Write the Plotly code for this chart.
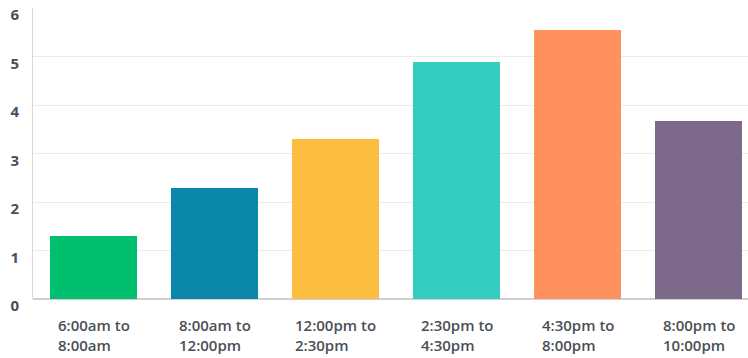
import plotly.graph_objects as go

categories = ["6:00am to<br>8:00am", "8:00am to<br>12:00pm", "12:00pm to<br>2:30pm",
              "2:30pm to<br>4:30pm", "4:30pm to<br>8:00pm", "8:00pm to<br>10:00pm"]
values = [1.3, 2.29, 3.3, 4.88, 5.55, 3.67]
colors = ["#00BF6F", "#0B88A9", "#FDBD41", "#35CDC0", "#FF915E", "#7D6A8B"]
y_ticks = [0, 1, 2, 3, 4, 5, 6]

x_idx = list(range(len(categories)))

fig = go.Figure()
fig.add_trace(go.Bar(x=x_idx, y=values, marker=dict(color=colors, line=dict(width=0)),
                     width=0.727, hoverinfo="skip"))

font_c = "#4B4F56"
for i, c in enumerate(categories):
    fig.add_annotation(x=i, y=0, xref="x", yref="y", text=c, showarrow=False,
                       align="left", xanchor="center", yanchor="top", yshift=-14,
                       font=dict(family="Open Sans", size=15, color=font_c, weight=600))

fig.update_layout(
    template="none",
    width=748, height=358,
    margin=dict(l=33, r=0, t=7.5, b=58.7, pad=0, autoexpand=False),
    paper_bgcolor="white", plot_bgcolor="white",
    showlegend=False,
    bargap=0,
    xaxis=dict(range=[-0.5, 5.409], showticklabels=False, showgrid=False,
               zeroline=False, showline=False, fixedrange=True, automargin=False),
    yaxis=dict(range=[0, 6], tickvals=y_ticks, ticktext=[str(t) for t in y_ticks],
               showgrid=True, gridcolor="#EBEBEB", gridwidth=1,
               zeroline=True, zerolinecolor="#D0D0D0", zerolinewidth=1.5,
               showline=True, linecolor="#DADADA", linewidth=1,
               ticks="", ticklabelstandoff=10, ticklabelshift=7, automargin=False,
               ticklabeloverflow="allow",
               tickfont=dict(family="Open Sans", size=15, color=font_c, weight=700)),
)

fig.write_html("out.html", config={"displayModeBar": False},
               post_script="document.body.style.margin='0';document.body.style.padding='0';")
